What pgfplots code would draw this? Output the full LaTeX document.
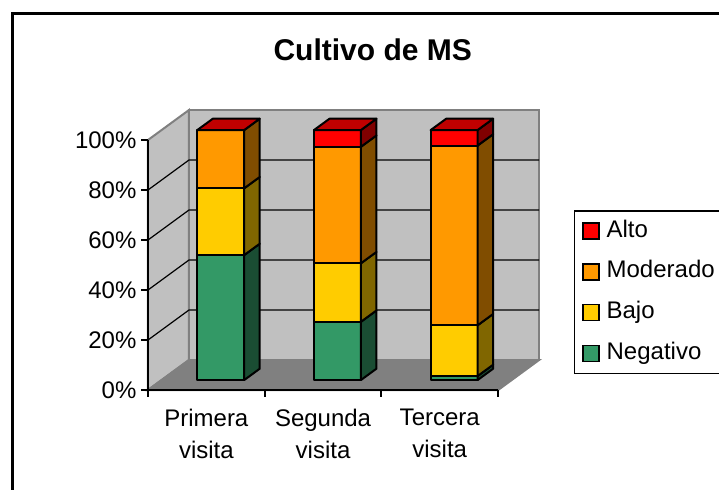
\documentclass[border=0pt]{standalone}
\usepackage{fontspec}
\setmainfont{Liberation Sans}
\usepackage{pgfplots}
\pgfplotsset{compat=1.18}
\definecolor{negF}{HTML}{339966}
\definecolor{negS}{HTML}{1A4D33}
\definecolor{bajF}{HTML}{FFCC00}
\definecolor{bajS}{HTML}{806600}
\definecolor{modF}{HTML}{FF9900}
\definecolor{modS}{HTML}{804D00}
\definecolor{altF}{HTML}{FF0000}
\definecolor{altS}{HTML}{800000}
\definecolor{altT}{HTML}{C00000}
\definecolor{wallC}{HTML}{C0C0C0}
\definecolor{floorC}{HTML}{808080}
% #1 category, #2 bottom of segment, #3 value, #4 front colour, #5 side colour
\newcommand{\seg}[5]{%
  \pgfmathsetmacro\xl{#1-0.078}%
  \pgfmathsetmacro\xr{#1+0.324}%
  \pgfmathsetmacro\xb{#1+0.324+0.1335}%
  \pgfmathsetmacro\yb{#2+3.96}%
  \pgfmathsetmacro\yt{#2+#3+3.96}%
  \pgfmathsetmacro\ybb{#2+3.96+4.56}%
  \pgfmathsetmacro\ytb{#2+#3+3.96+4.56}%
  \addplot[forget plot, fill=#4, draw=black, line width=1pt, line join=round]
    coordinates {(\xl,\yb) (\xr,\yb) (\xr,\yt) (\xl,\yt)} -- cycle;
  \addplot[forget plot, fill=#5, draw=black, line width=1pt, line join=round]
    coordinates {(\xr,\yb) (\xb,\ybb) (\xb,\ytb) (\xr,\yt)} -- cycle;
}
\newcommand{\topface}[1]{%
  \pgfmathsetmacro\xl{#1-0.078}%
  \pgfmathsetmacro\xr{#1+0.324}%
  \pgfmathsetmacro\xlb{#1-0.078+0.1335}%
  \pgfmathsetmacro\xb{#1+0.324+0.1335}%
  \addplot[forget plot, fill=altT, draw=black, line width=1pt, line join=round]
    coordinates {(\xl,103.96) (\xr,103.96) (\xb,108.52) (\xlb,108.52)} -- cycle;
}
\begin{document}
\begin{tikzpicture}
\useasboundingbox (0,0) rectangle (359.5pt,244.5pt);
\draw[line width=1.5pt] (6pt,-5pt) -- (6pt,238pt) -- (365pt,238pt);
\node[anchor=base, font=\fontsize{15}{18}\selectfont\bfseries] at (186.35pt,214.5pt) {Cultivo de MS};
\begin{axis}[
  at={(74pt,49.5pt)}, anchor=south west,
  x=58.35pt, y=1.25pt,
  xmin=-0.5, xmax=2.5, ymin=0, ymax=100,
  clip=false, axis on top,
  axis x line*=bottom, axis y line*=left,
  axis line style={line width=1pt, black},
  tick align=outside, major tick length=3.25pt,
  tick style={line width=1pt, black},
  ytick={0,20,40,60,80,100},
  yticklabel={\pgfmathprintnumber{\tick}\%},
  /pgf/number format/assume math mode=true,
  tick label style={font=\fontsize{12}{16}\selectfont},
  yticklabel style={xshift=1pt},
  xtick={-0.5,0.5,1.5,2.5}, xticklabels={},
  extra x ticks={0,1,2},
  extra x tick labels={Primera\\visita,Segunda\\visita,Tercera\\visita},
  extra x tick style={major tick length=0pt, tick label style={align=center, yshift=-6pt, font=\fontsize{12}{16}\selectfont}},
  legend image code/.code={\path (0pt,0pt) (11pt,0pt); \draw[#1, draw=black, line width=0.75pt] (1.5pt,-4pt) rectangle (9.5pt,4pt);},
  legend style={at={(1.2168,0.72)}, anchor=north west, draw=black, line width=0.75pt,
    font=\fontsize{12}{14}\selectfont, row sep=4.35pt, inner sep=2.2pt,
    nodes={inner sep=2pt, text height=9pt, text depth=3pt}},
  legend cell align=left,
]
% walls and floor
\addplot[forget plot, fill=wallC, draw=floorC, line width=1pt] coordinates {(-0.1487,12) (2.8513,12) (2.8513,112) (-0.1487,112)} -- cycle;
\addplot[forget plot, fill=wallC, draw=floorC, line width=1pt] coordinates {(-0.5,0) (-0.1487,12) (-0.1487,112) (-0.5,100)} -- cycle;
\addplot[forget plot, fill=floorC, draw=floorC, line width=1pt] coordinates {(-0.5,0) (2.5,0) (2.8513,12) (-0.1487,12)} -- cycle;
% gridlines
\addplot[forget plot, black, line width=0.6pt] coordinates {(-0.5,20) (-0.1487,32) (2.8513,32)};
\addplot[forget plot, black, line width=0.6pt] coordinates {(-0.5,40) (-0.1487,52) (2.8513,52)};
\addplot[forget plot, black, line width=0.6pt] coordinates {(-0.5,60) (-0.1487,72) (2.8513,72)};
\addplot[forget plot, black, line width=0.6pt] coordinates {(-0.5,80) (-0.1487,92) (2.8513,92)};
% Primera visita: Negativo 50, Bajo 26.7, Moderado 23.3, Alto 0
\seg{0}{0}{50}{negF}{negS}
\seg{0}{50}{26.7}{bajF}{bajS}
\seg{0}{76.7}{23.3}{modF}{modS}
\topface{0}
% Segunda visita: 23.3, 23.4, 46.6, 6.7
\seg{1}{0}{23.3}{negF}{negS}
\seg{1}{23.3}{23.4}{bajF}{bajS}
\seg{1}{46.7}{46.6}{modF}{modS}
\seg{1}{93.3}{6.7}{altF}{altS}
\topface{1}
% Tercera visita: 1.6, 20.3, 71.9, 6.2
\seg{2}{0}{1.6}{negF}{negS}
\seg{2}{1.6}{20.3}{bajF}{bajS}
\seg{2}{21.9}{71.9}{modF}{modS}
\seg{2}{93.8}{6.2}{altF}{altS}
\topface{2}
% legend
\addlegendimage{fill=altF}
\addlegendentry{\makebox[60pt][l]{Alto}}
\addlegendimage{fill=modF}
\addlegendentry{\makebox[60pt][l]{Moderado}}
\addlegendimage{fill=bajF}
\addlegendentry{\makebox[60pt][l]{Bajo}}
\addlegendimage{fill=negF}
\addlegendentry{\makebox[60pt][l]{Negativo}}
\end{axis}
\end{tikzpicture}
\end{document}
